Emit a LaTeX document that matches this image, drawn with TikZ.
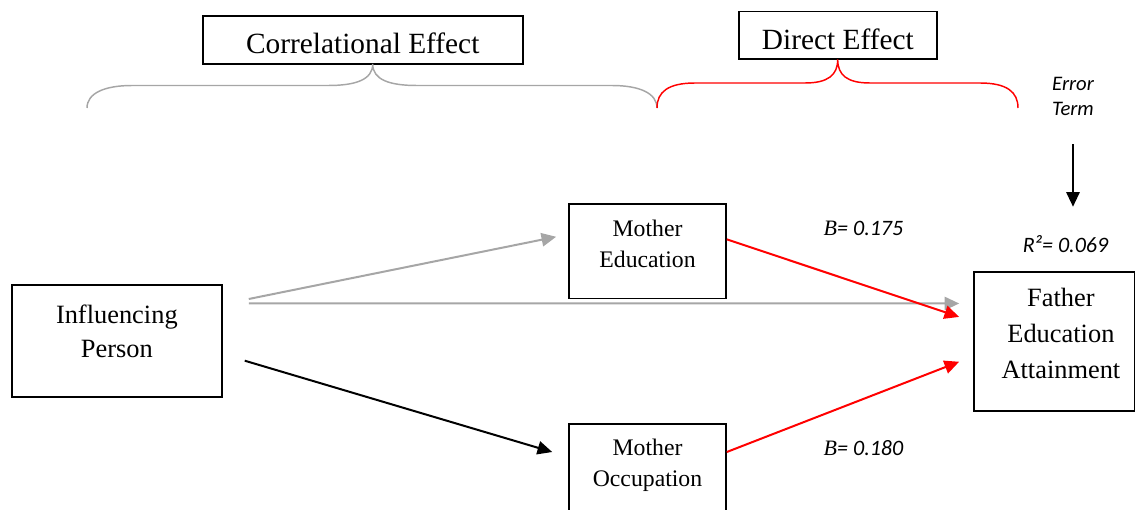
\documentclass[tikz,border=0pt]{standalone}
\usepackage{fontspec}
\setmainfont{Liberation Serif}
\newfontfamily\calib{Carlito}
\usepackage{xcolor}
\usepackage{tikz}
\usetikzlibrary{arrows.meta,calc}
\definecolor{effgray}{RGB}{166,166,166}
\definecolor{effred}{RGB}{255,0,0}
\newcommand{\topgap}[1]{\rule{0pt}{#1}}
\newcommand{\botgap}[1]{\rule[-#1]{0pt}{#1}}
\tikzstyle{block} = [rectangle, draw, line width=1.2pt, align=center, inner sep=0pt]
\tikzstyle{heading} = [block, font=\fontsize{22}{26}\selectfont]
\tikzstyle{coef} = [inner sep=0pt, font=\calib\itshape\fontsize{16.5}{20}\selectfont]
\tikzstyle{line} = [draw, line width=1.5pt, -{Triangle[length=11pt,width=10pt]}]
\tikzstyle{brace} = [line width=1.1pt]

\begin{document}
\begin{tikzpicture}[x=0.75pt, y=-0.75pt]
        \path [use as bounding box, clip] (0,0) rectangle (1136,510);
        % Headings
        \node [heading, minimum width=240pt, minimum height=36pt] (corr) at (362.75,40) {\topgap{28.5pt}Correlational Effect\botgap{7.5pt}};
        \node [heading, minimum width=148.3pt, minimum height=35.7pt] (direct) at (837.85,35.5) {\topgap{28pt}Direct Effect\botgap{7.7pt}};
        
        % Braces
        \draw [brace, effgray] (87,108) .. controls (87,93) and (105,85.5) .. (132,85.5) -- (328,85.5) .. controls (355,85.5) and (372.7,80) .. (372.7,64) .. controls (372.7,80) and (390,85.5) .. (417,85.5) -- (612,85.5) .. controls (639,85.5) and (657,93) .. (657,108);
        \draw [brace, effred] (657,108) .. controls (657,92) and (668,83) .. (695,83) -- (805,83) .. controls (828,83) and (837.7,75) .. (837.7,59.5) .. controls (837.7,75) and (847,83) .. (870,83) -- (980,83) .. controls (1007,83) and (1018,92) .. (1018,108);
        
        % Components
        \node [block, font=\fontsize{19.8}{25.5}\selectfont, minimum width=157.3pt, minimum height=84pt] (infl) at (116.85,341) {\topgap{28.5pt}Influencing\\Person\botgap{30pt}};
        \node [block, font=\fontsize{17.8}{23.3}\selectfont, minimum width=117.75pt, minimum height=71pt] (medu) at (647.5,251.35) {\topgap{24.5pt}Mother\\Education\botgap{23.2pt}};
        \node [block, font=\fontsize{17.8}{23.3}\selectfont, minimum width=117.75pt, minimum height=71pt] (mocc) at (647.5,471.35) {\topgap{23.3pt}Mother\\Occupation\botgap{24.4pt}};
        \node [block, font=\fontsize{19.8}{26.85}\selectfont, minimum width=120.4pt, minimum height=104.25pt] (fea) at (1054.25,341.2) {\topgap{26.25pt}\hspace*{10pt}Father\\\hspace*{10pt}Education\\\hspace*{10pt}Attainment\botgap{24.3pt}};
        
        % Coefficients
        \node [coef, anchor=base] (b1) at (863.5,235) {{\rmfamily B}= 0.175};
        \node [coef, anchor=base] (b2) at (863.5,455) {{\rmfamily B}= 0.180};
        \node [coef, anchor=base, text height=12pt] (rsq) at (1065.5,252) {R²= 0.069};
        \node [coef, font=\calib\itshape\fontsize{15.5}{19}\selectfont, anchor=north, align=center] (err) at (1073,76) {\topgap{10.5pt}Error\\Term};
        
        % Connections
        \path [line, effgray, shorten <=20.1pt, shorten >=9.2pt] ($(infl.east)+(0,-36.7)$) -- ($(medu.west)+(0,-17)$);
        \path [line, effgray, shorten <=19.7pt, shorten >=10.5pt] ($(infl.east)+(0,-37.7)$) -- ($(fea.west)+(0,-37.7)$);
        \path [line, shorten <=17.4pt, shorten >=12.5pt] ($(infl.east)+(0,13.1)$) -- ($(mocc.west)+(0,-14.6)$);
        \path [line, effred, shorten >=11.1pt] ($(medu.east)+(0,-12)$) -- ($(fea.west)+(0,-19.6)$);
        \path [line, effred, shorten >=11.3pt] ($(mocc.east)+(0,-19.35)$) -- ($(fea.west)+(0,15.1)$);
        \path [line, shorten <=21pt, shorten >=21.75pt] (err.south) -- (err.south |- rsq.north);
    \end{tikzpicture}
\end{document}
